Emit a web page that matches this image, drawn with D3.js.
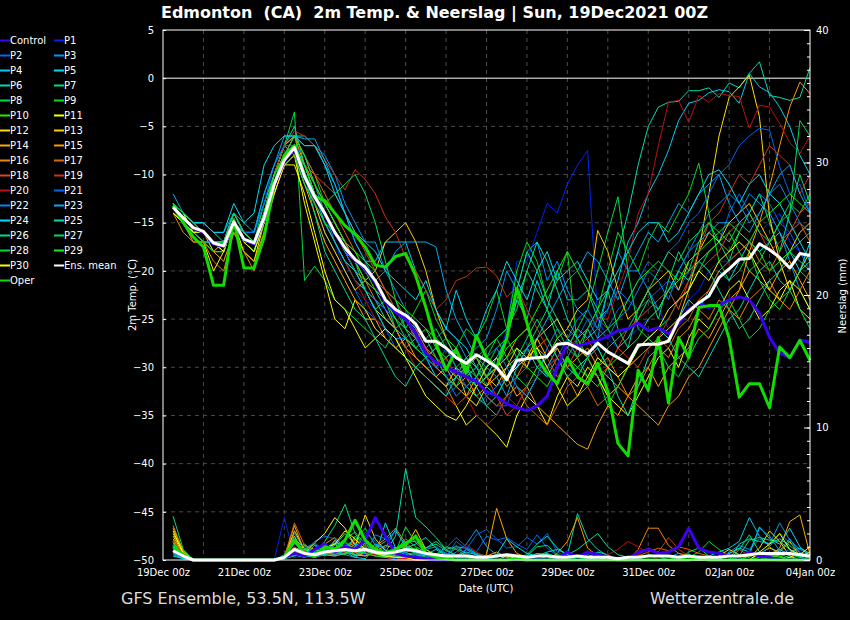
<!DOCTYPE html>
<html>
<head>
<meta charset="utf-8">
<script src="https://cdn.jsdelivr.net/npm/d3@7"></script>
<style>
  body { margin: 0; background: #000; }
</style>
</head>
<body>
<script>
const width = 850;
const height = 620;

// Zeitachse: 6-stündlich ab 19Dec 06z bis 04Jan 00z (Stunden seit 19Dec 00z)
const hours = d3.range(6, 390, 6);
const startTime = Date.UTC(2021, 11, 19);
const endHours = 384;
const labelHours = [0, 48, 96, 144, 192, 240, 288, 336, 384];

const tempTicks = [5, 0, -5, -10, -15, -20, -25, -30, -35, -40, -45, -50];
const precipTicks = [0, 10, 20, 30, 40];

// Farben der Mitglieder P1..P30
const memberNames = ["P1","P2","P3","P4","P5","P6","P7","P8","P9","P10",
  "P11","P12","P13","P14","P15","P16","P17","P18","P19","P20",
  "P21","P22","P23","P24","P25","P26","P27","P28","P29","P30"];
const memberColors = ["#0022ee","#0066ee","#0099ee","#00ccee","#00ddee","#00ddaa","#00dd77","#00dd44","#00dd22","#22ee00",
  "#ffff00","#ffdd00","#ffcc00","#ffaa00","#ff9900","#ee8800","#dd6600","#dd4422","#cc3311","#bb1111",
  "#0066ee","#0088ee","#00aaee","#00ddee","#00ddaa","#00dd88","#00dd55","#00dd33","#11ee11","#ffff00"];

const controlColor = "#3d00f0";
const operColor = "#11dd00";
const meanColor = "#ffffff";

// 2m Temperatur (°C)
const controlTemp = [
  -13.5,-14.6,-15.6,-16.0,-17.2,-17.5,-15.0,-16.8,
  -17.2,-14.6,-11.1,-8.6,-7.3,-10.3,-12.4,-14.1,
  -16.1,-17.7,-18.9,-19.8,-21.2,-23.2,-24.3,-25.0,
  -26.5,-28.5,-29.5,-30.0,-30.5,-31.0,-31.5,-32.5,
  -33.0,-33.8,-34.2,-34.5,-34.0,-33.0,-30.0,-27.5,
  -27.8,-27.5,-27.2,-26.8,-26.2,-26.0,-25.4,-26.2,
  -25.9,-26.5,-25.5,-24.0,-23.4,-23.8,-23.6,-23.0,
  -22.7,-23.0,-24.4,-26.9,-28.5,-29.0,-27.2,-27.4];

const operTemp = [
  -13.2,-15.0,-16.5,-17.5,-21.5,-21.5,-14.7,-19.7,
  -19.7,-16.5,-11.0,-8.0,-7.0,-10.0,-12.3,-12.7,
  -14.0,-15.3,-16.2,-17.5,-19.4,-19.6,-18.5,-18.2,
  -20.5,-23.8,-27.5,-30.3,-28.2,-30.6,-26.7,-29.0,
  -30.0,-27.0,-21.8,-25.4,-29.0,-30.6,-31.7,-29.0,
  -31.0,-31.7,-29.6,-32.5,-37.9,-39.2,-30.3,-32.4,
  -26.9,-33.7,-26.9,-29.0,-23.8,-23.6,-23.6,-27.0,
  -33.1,-31.7,-31.7,-34.2,-27.9,-29.0,-27.2,-29.3];

const meanTemp = [
  -13.4,-14.5,-15.5,-15.9,-17.1,-17.4,-14.9,-16.7,
  -17.1,-14.5,-11.0,-8.5,-7.2,-10.2,-12.3,-14.0,
  -16.0,-17.6,-18.8,-19.6,-21.0,-23.0,-24.0,-24.6,
  -25.5,-27.3,-27.3,-28.0,-29.0,-29.6,-28.7,-29.3,
  -30.0,-31.3,-29.3,-29.1,-29.0,-28.9,-27.6,-27.5,
  -28.0,-28.6,-27.5,-28.4,-29.0,-29.6,-27.7,-27.6,
  -27.6,-27.3,-25.1,-24.2,-23.3,-22.6,-20.7,-19.8,
  -18.8,-18.7,-17.2,-17.8,-18.6,-19.7,-18.2,-18.4];

const memberTemp = [
  // P1
  [-13,-15,-16,-16,-17,-18,-15,-17, -17,-14,-10,-8,-7,-9,-12,-15, -17,-20,-22,-23,-24,-25,-26,-27, -28,-29,-30,-31,-30,-31,-30,-29,
   -30,-26,-19,-19,-16,-13,-14,-11, -9,-7.5,-25,-27,-28,-27,-26,-25, -24,-26,-25,-23,-22,-20,-19,-19, -18,-17,-16,-15,-14,-17,-18,-19],
  // P2
  [-14,-15,-16,-16,-18,-18,-15,-17, -18,-15,-11,-8,-6,-10,-13,-16, -18,-20,-22,-24,-25,-26,-28,-29, -30,-31,-32,-33,-32,-33,-34,-33,
   -34,-34,-31,-30,-28,-30,-29,-27, -26,-27,-25,-26,-24,-23,-24,-23, -22,-21,-22,-20,-19,-18,-17,-14, -12,-14,-12,-13,-15,-16,-18,-20],
  // P3
  [-13,-14,-15,-16,-17,-17,-14,-16, -17,-14,-11,-8,-6,-7,-7,-8, -10,-13,-15,-17,-17,-20,-22,-24, -26,-28,-27,-26,-27,-29,-28,-27,
   -24,-20,-22,-18,-17,-21,-19,-22, -24,-25,-27,-22,-18,-20,-20,-22, -24,-22,-20,-18,-17,-16,-15,-15, -14,-12,-13,-14,-16,-19,-22,-24],
  // P4
  [-14,-15,-16,-16,-17,-17,-15,-16, -16,-12,-9,-7,-6,-6,-7,-9, -11,-14,-17,-19,-19,-17,-17,-17, -20,-22,-24,-26,-27,-28,-30,-31,
   -30,-27,-23,-25,-21,-24,-20,-23, -23,-22,-25,-24,-21,-17,-15,-12, -10,-7.5,-4.4,-2.6,-2.3,-1.5,-1.2,-1.4, -2.6,0.5,-0.9,-1.5,-3,-5,-8,-10],
  // P5
  [-13,-14,-15,-15,-16,-17,-14,-16, -16,-13,-10,-7,-8,-11,-13,-15, -17,-19,-21,-22,-23,-25,-26,-27, -28,-29,-31,-32,-31,-30,-32,-34,
   -35,-33,-32,-33,-31,-30,-28,-30, -31,-29,-28,-30,-31,-30,-28,-27, -26,-27,-25,-23,-24,-22,-20,-21, -19,-17,-18,-17,-16,-18,-20,-17],
  // P6
  [-14,-15,-16,-16,-17,-18,-15,-17, -17,-14,-10,-7,-5,-9,-12,-14, -16,-18,-19,-21,-22,-24,-26,-25, -27,-29,-28,-30,-31,-32,-33,-34,
   -33,-31,-30,-28,-30,-31,-29,-28, -26,-27,-26,-22,-18,-14,-9,-5, -3,-2.5,-2.4,-1.3,-1.3,-1,-2,-0.5, -1,0.5,1.7,-1.8,-2,-2.3,-2,1.1],
  // P7
  [-13,-14,-16,-17,-18,-18,-15,-17, -18,-15,-11,-9,-8,-10,-12,-13, -15,-17,-19,-22,-24,-23,-26,-28, -27,-29,-30,-29,-28,-31,-30,-28,
   -27,-26,-22,-18,-20,-23,-25,-27, -29,-26,-24,-22,-26,-28,-24,-22, -25,-21,-18,-20,-17,-15,-17,-19, -16,-14,-12,-15,-18,-14,-10,-13],
  // P8
  [-14,-15,-16,-16,-17,-17,-14,-16, -17,-13,-10,-7,-3.5,-21,-19.5,-21, -23,-24,-25,-26,-27,-28,-26,-27, -28,-27,-26,-28,-30,-29,-31,-30,
   -28,-27,-29,-28,-26,-24,-27,-28, -26,-24,-20,-16,-12.3,-20,-26,-27, -26,-25,-23,-22,-20,-18,-17,-16, -18,-20,-19,-17,-15,-13,-14,-12],
  // P9
  [-13,-15,-16,-16,-17,-17,-15,-17, -17,-14,-10,-7,-6,-8,-10,-13, -15,-17,-19,-20,-21,-23,-24,-26, -24,-22,-25,-27,-28,-26,-27,-25,
   -22,-26,-20,-17,-19,-23,-21,-18, -28,-26,-24,-20,-16,-18,-20,-17, -15,-16,-14,-12,-8.8,-14,-19,-21, -20,-18,-21,-23,-24,-22,-20,-21],
  // P10
  [-14,-15,-16,-17,-17,-18,-15,-17, -18,-15,-11,-8,-7,-9,-11,-14, -16,-17,-18,-19,-20,-22,-23,-24, -25,-26,-27,-28,-30,-31,-32,-31,
   -30,-29,-28,-30,-31,-32,-30,-29, -30,-31,-32,-30,-29,-28,-27,-25, -24,-22,-21,-20,-19,-18,-17,-18, -16,-17,-15,-14,-13,-12,-13,-14],
  // P11
  [-13,-14,-16,-17,-20,-18,-15,-18, -19,-15,-11,-9,-8,-13,-17,-21, -25,-26,-23,-24,-26,-27,-28,-29, -30,-31,-32,-33,-34,-36,-35,-36,
   -37,-38.3,-35,-33,-34,-36,-33,-31, -32,-30,-31,-33,-34,-35,-33,-31, -29,-28,-30,-27,-25,-26,-24,-22, -21,-23,-25,-24,-22,-21,-24,-25],
  // P12
  [-14,-15,-16,-16,-17,-17,-14,-16, -17,-14,-10,-8,-7,-9,-12,-14, -16,-18,-20,-22,-24,-25,-26,-28, -29,-30,-31,-32,-30,-33,-34,-32,
   -31,-30,-28,-29,-27,-26,-25,-27, -28,-29,-31,-33,-32,-30,-29,-28, -27,-26,-25,-22,-18,-12,-6,-2, -0.9,0.3,-4,-14.4,-19,-22,-20,-18],
  // P13
  [-13,-15,-16,-16,-18,-17,-15,-17, -17,-14,-10,-8,-7,-10,-13,-16, -18,-20,-22,-21,-20,-17,-16,-15, -17,-20,-24,-27,-29,-30,-29,-31,
   -32,-30,-29,-30,-27,-29,-27,-26, -24,-23,-15.8,-18,-22,-25,-24,-22, -21,-20,-22,-19,-18,-16,-17,-15, -14,-13,-15,-17,-19,-18,-16,-15],
  // P14
  [-14,-15,-17,-17,-18,-19,-16,-18, -19,-16,-12,-9,-8,-11,-14,-17, -19,-21,-23,-25,-25,-27,-28,-27, -29,-30,-31,-30,-32,-33,-31,-32,
   -30,-31,-33,-32,-34,-35,-36,-37, -38,-38.5,-36,-34,-35,-33,-31,-30, -32,-30,-29,-28,-26,-27,-25,-23, -22,-20,-21,-22,-20,-19,-21,-23],
  // P15
  [-13,-14,-15,-16,-17,-17,-14,-16, -17,-14,-10,-7,-6,-9,-12,-14, -16,-18,-20,-21,-22,-23,-24,-25, -27,-28,-30,-31,-32,-31,-33,-32,
   -30,-29,-27,-26,-28,-29,-28,-30, -29,-28,-30,-31,-32,-33,-34,-35, -36,-34,-33,-31,-30,-28,-26,-24, -22,-18,-15,-11.3,-7,-3,-0.4,-1.6],
  // P16
  [-14,-16,-17,-17,-19,-20,-16,-18, -20,-16,-12,-9,-8,-9,-11,-13, -15,-17,-19,-21,-23,-24,-26,-28, -29,-30,-31,-32,-34,-33,-32,-31,
   -30,-32,-31,-29,-28,-27,-29,-31, -33,-32,-30,-29,-31,-33,-32,-30, -28,-29,-27,-26,-24,-25,-23,-24, -25,-23,-22,-21,-23,-24,-22,-20],
  // P17
  [-13,-14,-15,-16,-17,-17,-15,-17, -18,-15,-11,-9,-8,-9,-10,-12, -14,-16,-18,-20,-21,-22,-24,-25, -26,-28,-29,-30,-31,-32,-31,-33,
   -34,-33,-32,-34,-35,-36,-34,-32, -31,-32,-34,-33,-32,-30,-29,-28, -27,-28,-26,-25,-23,-22,-20,-19, -18,-17,-19,-20,-18,-16,-15,-17],
  // P18
  [-14,-15,-16,-16,-17,-18,-15,-17, -17,-14,-11,-8,-6,-8,-10,-11, -12,-14,-16,-18,-20,-22,-23,-25, -27,-28,-30,-29,-31,-30,-29,-31,
   -33,-35,-34,-32,-30,-29,-31,-30, -28,-27,-29,-30,-28,-26,-25,-24, -23,-22,-24,-21,-20,-19,-18,-16, -15,-14,-16,-18,-17,-16,-14,-13],
  // P19
  [-13,-15,-16,-16,-17,-18,-15,-17, -17,-14,-10,-7,-5.5,-6,-7,-8.5, -10,-11.6,-9.5,-10.5,-12,-14.4,-16,-18.6, -20,-22,-24,-23,-21,-20.6,-19.7,-19.6,
   -20.5,-22.7,-21.7,-24,-26,-28,-30,-29, -27,-29,-31,-30,-28,-29,-30,-28, -27,-25,-23,-21,-18,-15,-14,-12, -10,-11,-9,-7,-8,-9,-12,-10],
  // P20
  [-14,-15,-16,-17,-18,-18,-15,-17, -18,-15,-11,-8,-7,-10,-13,-15, -17,-19,-21,-23,-25,-26,-27,-28, -30,-31,-32,-33,-34,-33,-35,-36,
   -35,-33,-34,-32,-31,-30,-29,-28, -27,-26,-25,-25,-22,-19,-14,-12, -7,-2.5,-2.3,-4.6,-1.8,-2.5,-1.6,-1.8, -1.9,-5.2,-2.8,-3,-4.7,-6.7,-7.8,-6],
  // P21
  [-13,-14,-15,-16,-17,-17,-14,-16, -16,-13,-9,-7,-7,-9,-12,-14, -16,-18,-20,-22,-23,-24,-25,-26, -27,-29,-30,-28,-30,-32,-31,-33,
   -32,-31,-30,-28,-29,-31,-30,-29, -27,-25,-26,-24,-22,-23,-21,-19, -20,-18,-17,-15,-14,-12,-10,-9, -7,-6,-5.2,-5.4,-9.2,-12,-11,-14],
  // P22
  [-14,-15,-16,-17,-17,-18,-15,-17, -17,-14,-10,-8,-7,-8,-11,-14, -17,-19,-20,-22,-24,-26,-27,-27, -26,-27,-29,-31,-33,-32,-31,-29,
   -28,-30,-32,-33,-31,-28,-26,-27, -25,-24,-26,-27,-25,-24,-22,-20, -21,-23,-20,-18,-16,-14,-13,-12, -13,-15,-14,-12,-11,-13,-15,-16],
  // P23
  [-12,-14,-15,-15,-16,-16,-14,-15, -16,-12,-9,-6,-6,-6.3,-6.3,-8.5, -11,-14,-17,-19,-21,-20,-18,-17, -17,-17,-17.5,-22,-25,-27,-29,-30,
   -31,-33,-30,-28,-27,-25,-23,-21, -20,-18,-19,-21,-23,-20,-18,-16, -17,-15,-13,-14,-12,-11,-10,-13, -15,-16,-14,-12,-10,-9,-12,-14],
  // P24
  [-13,-14,-15,-15,-16,-16,-13,-15, -14,-9,-7,-6,-6,-7,-7,-9, -12,-14,-16,-17,-18,-20,-21,-22, -23,-21,-24,-26,-22,-25,-27,-24,
   -22,-19,-21,-23,-20,-18,-21,-20, -19,-21,-23,-22,-20,-18,-16,-15, -15,-17,-16,-14,-12,-10,-9.5,-11, -13,-11,-10,-12,-13,-15,-17,-19],
  // P25
  [-14,-15,-16,-16,-17,-18,-15,-17, -18,-15,-11,-8,-7,-9,-12,-15, -17,-19,-20,-22,-24,-26,-27,-29, -30,-31,-32,-33,-31,-30,-32,-31,
   -29,-27,-23,-20,-17,-19,-22,-25, -27,-26,-28,-30,-33,-35,-32,-29, -28,-27,-29,-30,-31,-29,-27,-25, -24,-22,-20,-19,-21,-22,-20,-19],
  // P26
  [-13,-15,-16,-17,-17,-18,-15,-16, -17,-14,-11,-8,-7,-10,-14,-18, -20,-22,-24,-25,-27,-29,-31,-32, -30,-29,-28,-30,-31,-29,-30,-32,
   -33,-31,-29,-27,-25,-27,-29,-31, -30,-29,-27,-26,-28,-27,-25,-23, -24,-22,-20,-21,-19,-20,-22,-24, -26,-25,-23,-21,-20,-18,-19,-20],
  // P27
  [-14,-15,-16,-16,-17,-17,-14,-16, -17,-14,-10,-8,-7,-9,-12,-13, -12,-11,-10,-12,-15,-19,-23,-26, -28,-29,-28,-27,-29,-30,-31,-29,
   -27,-26,-24,-20,-22,-24,-26,-28, -29,-31,-30,-28,-27,-26,-24,-22, -20,-18,-19,-17,-16,-15,-16,-17, -15,-14,-16,-17,-15,-14,-4.4,-6],
  // P28
  [-13,-14,-15,-16,-17,-17,-15,-17, -18,-15,-11,-9,-8,-11,-13,-15, -16,-18,-19,-21,-22,-23,-25,-27, -28,-27,-29,-31,-32,-30,-29,-28,
   -27,-29,-31,-32,-30,-29,-27,-26, -27,-29,-31,-34,-32,-30,-28,-27, -28,-30,-31,-29,-27,-26,-24,-23, -25,-27,-26,-24,-23,-22,-24,-26],
  // P29
  [-14,-15,-16,-17,-18,-18,-15,-17, -18,-14,-10,-8,-6,-8,-11,-13, -15,-17,-18,-20,-22,-23,-25,-26, -27,-26,-28,-29,-28,-30,-29,-31,
   -30,-28,-27,-26,-24,-22,-20,-18, -20,-22,-24,-26,-25,-23,-21,-20, -19,-20,-21,-19,-18,-17,-16,-15, -16,-17,-18,-20,-19,-18,-17,-16],
  // P30
  [-14,-15,-16,-16,-17,-18,-15,-17, -18,-15,-12,-9,-9,-12,-16,-20, -23,-24,-26,-28,-27,-26,-27,-29, -31,-33,-34,-35,-35.5,-34,-32,-30,
   -29,-31,-30,-29,-28,-30,-32,-34, -33,-31,-29,-30,-31,-30,-28,-27, -26,-24,-23,-22,-20,-21,-19,-18, -17,-18,-20,-22,-23,-21,-22,-24]
];

// Neerslag (mm)
const controlPrecip = [
  0.8,0.3,0,0,0,0,0,0, 0,0,0,0.2,0.5,0.3,0.8,1.2, 0.6,1.0,0.8,1.5,3.2,1.8,0.5,0.3, 0.2,0.1,0,0,0,0,0,0,
  0,0,0,0,0.1,0,0,0.6, 0.2,0.6,0.4,0.2,0,0,0.6,0.8, 0.5,0.6,1.0,2.4,0.9,0.6,0.5,0.3, 0.2,0.6,0.3,0.2,0,0,0,0];
const operPrecip = [
  1.0,0.4,0,0,0,0,0,0, 0,0,0,0.2,1.5,0.5,0.3,1.0, 0.8,1.5,3.0,1.5,0.8,0.5,0.8,1.2, 1.8,0.5,0.2,0.1,0,0,0,0,
  0,0,0.1,0,0,0,0,0, 0,0,0,0,0,0,0,0, 0,0,0,0,0.1,0,0,0, 0,0,0,0,0,0,0,0];
const meanPrecip = [
  0.7,0.3,0,0,0,0,0,0, 0,0,0,0.2,0.8,0.5,0.4,0.6, 0.7,0.8,0.7,0.8,0.6,0.5,0.6,0.8, 0.7,0.5,0.4,0.3,0.3,0.3,0.2,0.2,
  0.3,0.4,0.3,0.2,0.3,0.3,0.2,0.2, 0.3,0.2,0.2,0.2,0.1,0.2,0.2,0.3, 0.3,0.3,0.2,0.3,0.2,0.2,0.2,0.3, 0.3,0.4,0.5,0.5,0.5,0.5,0.4,0.3];

const memberPrecip = [
  // P1
  [0.6,0.2,0,0,0,0,0,0, 0,0,0,3.2,0.2,0.3,0.5,1.0, 0.8,1.2,0.6,0.4,0.3,0.2,0,0, 0,0,0,0,0,0,0,0,
   0,0,0,0,0.2,0,0,0, 0,0,0,0,0,0,0,0, 0,0,0,0.3,0,0,0,0, 0,0,0,0,0,0,0,0],
  // P2
  [1.0,0.3,0,0,0,0,0,0, 0,0,0,0.3,1.2,0.6,1.4,1.8, 1.6,0.9,0.5,0.7,0.4,0.2,0.1,0, 0,0,0.3,0.9,1.7,1.0,0.6,1.8,
   1.5,1.7,1.2,0.8,1.9,0.9,0.3,0, 0,0,0,0,0,0,0,0, 0,0,0,0,0,0,0,0, 0,0,0,0.5,0.8,0.3,0,0],
  // P3
  [0.8,0.2,0,0,0,0,0,0, 0,0,0,0.4,2.0,0.8,0.3,1.1, 0.9,0.4,0.2,0.6,1.2,0.8,0.4,0.6, 0.8,0.5,0.3,0.2,0.6,1.2,2.3,1.0,
   0.4,0.2,0,0,0,0.3,0,0, 0,0.4,0.2,0,0,0,0,0, 0,0.2,0.5,0.3,0,0,0,0.6, 1.1,0.8,1.6,1.2,2.8,1.5,0.8,0.4],
  // P4
  [0.5,0.1,0,0,0,0,0,0, 0,0,0,0.2,1.6,0.9,0.4,0.8, 1.3,0.6,0.2,0.1,0.9,1.4,2.2,1.1, 0.6,0.3,0.2,0,0,0.8,0.4,0,
   0,0,0,0,0,0,0,0, 0,0,0,0,0,0,0,0, 0,0,0,0,0,0.3,0.6,0.9, 1.4,3.2,1.8,1.0,0.4,0.6,0.9,0.5],
  // P5
  [1.2,0.4,0,0,0,0,0,0, 0,0,0,0.3,0.8,0.4,1.1,0.6, 0.4,1.0,1.6,0.7,0.3,2.8,0.9,0.6, 0.2,0.4,0.8,0.3,0,0,0,0,
   0,0,0,0.2,0.5,0.4,0.3,0.2, 0,0.2,0.6,0.4,0,0,0,0, 0,0,0,0,0,0,0,0, 0,0.4,2.5,1.6,1.2,2.4,1.0,0.3],
  // P6
  [0.9,0.2,0,0,0,0,0,0, 0,0,0,0.2,0.9,0.5,0.3,0.7, 1.1,2.0,1.2,0.8,0.4,0.6,1.8,6.9, 3.2,2.5,1.7,0.8,1.0,0.9,0.5,0.3,
   0.2,0.4,0.2,0,0,0,0.3,0.4, 3.5,1.6,0.8,0.3,0,0,0,0, 0,0,0,0,0,0,0,0, 0,0,0,0.2,0.4,0.2,0,0],
  // P7
  [3.3,0.8,0,0,0,0,0,0, 0,0,0,0.2,0.6,1.0,0.5,1.4, 2.6,4.2,2.0,0.9,0.6,0.4,0.8,1.4, 1.4,0.9,1.2,0.7,0.4,0.2,0,0,
   0,0,0,0.3,1.0,1.1,0.4,0, 0,0,0,0,0,0,0,0, 0,0,0,0,0,0,0,0, 0.8,1.9,0.6,0.4,0.2,0,0,0],
  // P8
  [1.4,0.3,0,0,0,0,0,0, 0,0,0,0.3,0.9,0.4,0.2,0.8, 1.2,0.6,1.8,1.0,0.5,0.3,0.7,1.6, 1.0,0.6,0.4,1.0,0.8,0.3,0,0,
   0,0,0.2,0,0,0,0.4,0.2, 0,0,0,0,0,0,0,0, 0,0,0.3,0.2,0,0,0,0, 0,0,0,0,0,0,0,0],
  // P9
  [0.7,0.2,0,0,0,0,0,0, 0,0,0,0.2,0.4,0.8,1.2,0.6, 0.5,0.9,1.5,2.4,1.1,0.6,0.9,1.3, 1.9,0.8,0.4,0.2,0,0,0,0,
   0,0,0,0,0,0,0,0, 0,0,0.3,0.2,0,0,0,0, 0,0,0,0.2,0.6,1.4,0.8,0.3, 0.2,0,0,0,0,0.4,0.2,0],
  // P10
  [1.1,0.3,0,0,0,0,0,0, 0,0,0,0.1,0.5,0.3,0.8,0.4, 0.6,0.4,1.0,0.7,0.5,0.4,0.6,0.8, 0.9,0.4,0.2,0,0,0,0,0,
   0,0,0,0,0,0,0,0, 0,0,0,0,0,0,0,0, 0,0,0,0,0,0,0,0, 0,0,0,0.2,0.3,0,0,0],
  // P11
  [2.0,0.6,0,0,0,0,0,0, 0,0,0,0.2,0.8,0.5,1.3,2.0, 3.2,2.4,1.1,0.6,0.8,0.3,0.2,0.1, 0,0,0,0,0,0,0,0,
   0,0.3,0.1,0,0,0,0,0, 0,0,0,0,0,0,0,0, 0,0,0,0,0,0,0,0, 0,0,0,0,0,0.2,0.5,0],
  // P12
  [1.8,0.5,0,0,0,0,0,0, 0,0,0,0.2,2.2,0.8,0.4,0.6, 0.8,0.6,1.0,3.4,1.6,0.7,0.4,0.3, 0.5,0.2,0,0,0,0,0,0,
   0,0,0,0,0,0,0,0, 0,0,0,0,0,0,0,0, 0,0,0,0,0,0,0.3,0.8, 0.4,0.2,0.9,2.2,1.4,0.3,0,0],
  // P13
  [2.4,0.7,0,0,0,0,0,0, 0,0,0,0.3,1.8,0.4,0.2,0.5, 0.7,1.0,0.4,0.3,0.6,1.1,0.9,1.0, 2.3,0.8,0.3,0,0,0,0,0,
   0,0,0,0,0,0,0,0, 0,0,0,0,0.2,0,0,0, 0,0,0,0,0,0,0,0, 0,0,0.5,0.9,0.6,1.4,0.3,0.6],
  // P14
  [1.6,0.4,0,0,0,0,0,0, 0,0,0,0.2,2.6,0.6,0.3,0.4, 1.5,0.8,0.3,0.6,0.9,0.4,0.3,0.2, 0,0,0,0,0,0,0,0.4,
   3.9,1.6,0.5,0.2,0,0,0,0, 0,0,0,0,0,0,0,0, 0,0,0,0,0,0,0,0, 0,0,0,0.3,0.9,2.9,3.4,0.4],
  // P15
  [1.3,0.3,0,0,0,0,0,0, 0,0,0,0.1,0.6,1.1,0.8,0.5, 0.4,0.9,1.3,0.8,0.5,0.3,0.2,0.1, 0,0,0,0,0,0,0,0.3,
   0.6,0.2,0,0,0,0,0.5,1.4, 3.2,0.9,0.3,0,0,0,0,0, 0,0,0,0,0,0,0,0, 0,0,0,0,0,0,0,0],
  // P16
  [2.6,0.6,0,0,0,0,0,0, 0,0,0,0.2,0.9,0.4,0.8,1.2, 1.7,0.9,0.6,0.3,1.0,1.6,2.4,1.3, 0.7,0.4,0.2,0,0,0,0,0,
   0,0,0,0,0,0,0,0, 0,0,0,0,0,0,0.8,2.4, 2.4,1.1,0.5,0.3,0.2,0,0,0, 0,0,0,0,0,0,0,0],
  // P17
  [1.5,0.4,0,0,0,0,0,0, 0,0,0,0.2,2.8,1.1,0.6,0.4, 0.3,0.5,1.2,0.9,0.6,0.4,0.2,0.1, 0,0,0,0,0,0,0,0,
   0,0,0,0,0,0,0,0, 0,0,0,0,0,0,0.3,0.6, 0.9,0.7,1.0,0.8,0.5,0.3,0,0, 0,0,0,0,0,0,0,0],
  // P18
  [1.0,0.3,0,0,0,0,0,0, 0,0,0,0.2,1.4,0.7,0.4,0.9, 0.6,0.8,1.5,1.1,0.7,0.3,0.2,0, 0,0,0,0.2,1.1,0.4,0,0,
   0,0,0,0,0,0,0,0, 0,0,0,0,0,0,0,0, 0,0,0,0,0,0,0.2,0.5, 0.8,0.3,0,0,0,0,0,0],
  // P19
  [0.8,0.2,0,0,0,0,0,0, 0,0,0,0.3,1.0,0.5,0.2,0.4, 0.7,1.1,0.9,0.5,0.3,0.2,0,0, 0,0,0,0,0,0,0,0,
   0,0,0,0,0,0,0,0, 0,0,0,0,0,0,0.4,0.9, 0.6,1.7,0.8,0.3,0,0,0,0, 0,0,0,0,0,0,0,0],
  // P20
  [0.9,0.2,0,0,0,0,0,0, 0,0,0,0.2,0.7,0.4,0.3,0.6, 0.4,0.6,0.8,0.5,0.4,0.3,0.2,0.1, 0,0,0,0,0.4,1.2,0.6,0.2,
   0,0,0,0,0,0,0,0, 0,0,0.2,0.4,0.8,1.4,1.0,0.5, 0,0,0,0,0,0,0,0, 0,0,0,0,0,0,0,0],
  // P21
  [1.2,0.3,0,0,0,0,0,0, 0,0,0,0.2,0.6,0.9,1.3,0.7, 0.5,0.8,1.0,2.1,1.4,0.6,0.3,0.2, 0.5,0.2,0.4,0.3,1.4,0.8,1.9,2.3,
   1.6,0.9,1.0,1.7,1.2,2.0,0.6,0.2, 0,0,0,0,0,0,0,0, 0,0,0,0,0,0,0,0, 0,0,0,0.3,0.5,0.8,0.3,0],
  // P22
  [0.7,0.2,0,0,0,0,0,0, 0,0,0,0.2,0.5,0.3,0.2,0.4, 0.9,1.3,0.7,0.5,1.9,1.6,0.8,0.4, 0.3,0.8,1.0,0.5,0.3,0.8,0.4,0.2,
   0,0,0,0,0,0,0,0, 0,0,0,0,0,0,0,0, 0,0,0,0,0,0,0,0, 0,0,0.4,1.0,2.0,1.3,0.6,0.2],
  // P23
  [0.4,0.1,0,0,0,0,0,0, 0,0,0,0.1,0.4,0.3,0.5,0.8, 1.4,0.8,0.4,0.6,1.2,0.9,2.3,1.0, 0.5,0.4,0.2,0.3,0.9,0.5,0.2,0.1,
   0,0,0,0,0,0,0,0, 0,0,0.3,0.2,0,0,0,0, 0,0,0,0,0,0,0,0, 0.2,0.6,2.4,1.8,0.7,1.6,0.5,0.3],
  // P24
  [0.3,0.1,0,0,0,0,0,0, 0,0,0,0.2,0.4,0.2,0.6,0.4, 0.3,0.5,0.9,0.7,0.5,0.3,0.2,0.4, 0.2,0,0,0,0.3,0.6,0.4,0.2,
   0.4,1.6,1.0,0.5,0.3,0.6,0.8,0.4, 0,0,0,0,0,0,0,0, 0,0,0,0,0,0,0,0.5, 0.9,0.6,0.4,0.3,0.8,0.4,0.3,0.2],
  // P25
  [0.6,0.2,0,0,0,0,0,0, 0,0,0,0.2,0.5,0.3,0.8,0.6, 0.4,0.7,1.2,0.8,0.5,0.2,0.6,0.9, 1.2,1.7,0.9,0.4,0.2,0,0,0,
   0,0,0.2,0.4,1.2,1.8,0.9,0.4, 0.8,1.4,2.0,1.0,0.4,0.2,0,0, 0,0,0,0,0,0,0,0, 1.2,1.6,1.4,1.2,1.6,1.1,0.4,0.2],
  // P26
  [1.0,0.2,0,0,0,0,0,0, 0,0,0,0.1,0.3,0.6,0.4,0.9, 1.2,0.6,0.4,0.8,0.5,0.3,0.7,0.4, 0.6,0.9,1.4,0.8,0.3,0.1,0,0,
   0,0,0,0,0,0,0,0, 0,0,0,0,0,0,0,0, 0,0,0.2,0.4,0.2,0,0,0, 0.3,1.5,1.7,1.5,1.4,0.8,0.2,0],
  // P27
  [1.3,0.3,0,0,0,0,0,0, 0,0,0,0.2,0.7,1.2,0.6,0.3, 0.8,1.6,2.1,1.2,0.7,0.4,0.6,2.5, 1.3,0.6,0.3,0.1,0,0,0,0,
   0,0,0,0,0,0,0,0, 0,0,0.2,0,0,0,0,0.4, 0.3,0,0,0.6,0.9,0.3,0,0, 0,0,0,0,0,0,0,0],
  // P28
  [0.8,0.2,0,0,0,0,0,0, 0,0,0,0.1,0.4,0.2,0.7,1.0, 0.6,0.4,0.8,1.3,0.9,0.5,0.3,0.2, 0.4,0.2,0,0,0,0,0,0,
   0,0,0,0,0,0,0,0, 0,0,0,0,0,0,0,0, 0,0,0,0,0.3,0.2,0,0, 0,0.3,0.4,0.2,0,0,0,0],
  // P29
  [1.1,0.3,0,0,0,0,0,0, 0,0,0,0.2,0.5,0.8,0.4,1.0, 0.6,1.4,0.7,0.5,0.3,0.2,0.4,1.0, 0.8,0.5,0.2,0,0,0,0,0,
   0,0,0,0,0.3,0.5,0.2,0, 0,0,0,0,0,0,0,0, 0,0,0,0,0,0,0,0, 0,0,0.2,0.4,0.3,0,0,0],
  // P30
  [2.2,0.5,0,0,0,0,0,0, 0,0,0,0.2,1.3,0.6,0.3,0.9, 1.2,2.2,1.6,0.8,0.5,0.3,0.2,0.2, 0,0,0,0,0,0,0.3,0,
   0,0,0,0,0,0,0,0, 0,0,0,0,0,0,0,0, 0,0,0,0,0,0,0,0, 0,0,0.6,1.2,2.0,0.8,0.4,1.0]
];

// Skalen
const x = d3.scaleUtc()
  .domain([new Date(startTime), new Date(startTime + endHours * 3600e3)])
  .range([163, 810]);
const yT = d3.scaleLinear().domain([-50, 5]).range([560, 30]);
const yP = d3.scaleLinear().domain([0, 40]).range([560, 30]);
const timeOf = h => new Date(startTime + h * 3600e3);

const svg = d3.select("body").append("svg")
  .attr("width", width)
  .attr("height", height)
  .attr("viewBox", [0, 0, width, height])
  .style("background", "#000")
  .attr("font-family", "'DejaVu Sans', sans-serif");

// Gitter
const grid = svg.append("g")
  .attr("stroke", "#4a4a4a")
  .attr("stroke-dasharray", "4,4");
grid.selectAll("line.h")
  .data(tempTicks.filter(v => v > -50 && v < 5 && v !== 0))
  .join("line")
  .attr("x1", 163).attr("x2", 810)
  .attr("y1", d => yT(d)).attr("y2", d => yT(d));
grid.selectAll("line.v")
  .data(d3.utcDay.range(new Date(startTime + 864e5), timeOf(endHours)))
  .join("line")
  .attr("x1", d => x(d)).attr("x2", d => x(d))
  .attr("y1", 30).attr("y2", 560);

// Nulllinie
svg.append("line")
  .attr("x1", 163).attr("x2", 810)
  .attr("y1", yT(0)).attr("y2", yT(0))
  .attr("stroke", "#fff");

const lineT = d3.line().x((d, i) => x(timeOf(hours[i]))).y(d => yT(d));
const lineP = d3.line().x((d, i) => x(timeOf(hours[i]))).y(d => yP(d));

// Mitglieder
const members = svg.append("g").attr("fill", "none").attr("stroke-width", 1);
members.selectAll("path.t")
  .data(memberTemp)
  .join("path")
  .attr("d", lineT)
  .attr("stroke", (d, i) => memberColors[i]);
members.selectAll("path.p")
  .data(memberPrecip)
  .join("path")
  .attr("d", lineP)
  .attr("stroke", (d, i) => memberColors[i]);

// Control, Oper, Mittel
const main = svg.append("g").attr("fill", "none").attr("stroke-width", 3).attr("stroke-linejoin", "round");
[[controlTemp, controlPrecip, controlColor], [operTemp, operPrecip, operColor], [meanTemp, meanPrecip, meanColor]]
  .forEach(([t, p, c]) => {
    main.append("path").attr("d", lineT(t)).attr("stroke", c);
    main.append("path").attr("d", lineP(p)).attr("stroke", c);
  });

// Rahmen
svg.append("rect")
  .attr("x", 163).attr("y", 30).attr("width", 647).attr("height", 530)
  .attr("fill", "none").attr("stroke", "#fff");

// Achsen
const styleAxis = g => {
  g.select(".domain").remove();
  g.selectAll("line").attr("stroke", "#fff");
  g.selectAll("text").attr("fill", "#fff");
  g.attr("font-family", "'DejaVu Sans', sans-serif").attr("font-size", 10);
};

svg.append("g")
  .attr("transform", "translate(163,0)")
  .call(d3.axisLeft(yT).tickValues(tempTicks).tickSize(-3).tickPadding(9))
  .call(styleAxis);

svg.append("g")
  .attr("transform", "translate(810,0)")
  .call(d3.axisRight(yP).tickValues(d3.range(0, 41)).tickSize(-3).tickFormat(""))
  .call(styleAxis);
svg.append("g")
  .attr("transform", "translate(810,0)")
  .call(d3.axisRight(yP).tickValues(precipTicks).tickSize(-6).tickPadding(6))
  .call(styleAxis);

svg.append("g")
  .attr("transform", "translate(0,560)")
  .call(d3.axisBottom(x).tickValues(labelHours.map(timeOf)).tickFormat(d3.utcFormat("%d%b %Hz")).tickSize(0).tickPadding(9))
  .call(styleAxis);

// Achsentitel
svg.append("text")
  .attr("x", 486).attr("y", 592)
  .attr("text-anchor", "middle").attr("fill", "#fff").attr("font-size", 10)
  .text("Date (UTC)");
svg.append("text")
  .attr("transform", "translate(136,295) rotate(-90)")
  .attr("text-anchor", "middle").attr("fill", "#fff").attr("font-size", 10)
  .text("2m Temp. (°C)");
svg.append("text")
  .attr("transform", "translate(846,296) rotate(-90)")
  .attr("text-anchor", "middle").attr("fill", "#fff").attr("font-size", 10)
  .text("Neerslag (mm)");

// Titel und Fußzeile
svg.append("text")
  .attr("x", 161).attr("y", 18)
  .attr("fill", "#fff").attr("font-size", 15).attr("font-weight", "bold")
  .attr("textLength", 547).attr("lengthAdjust", "spacingAndGlyphs")
  .style("white-space", "pre")
  .text("Edmonton  (CA)  2m Temp. & Neerslag | Sun, 19Dec2021 00Z");
svg.append("text")
  .attr("x", 121).attr("y", 604)
  .attr("fill", "#ddd").attr("font-size", 16)
  .text("GFS Ensemble, 53.5N, 113.5W");
svg.append("text")
  .attr("x", 650).attr("y", 604)
  .attr("fill", "#ddd").attr("font-size", 16)
  .text("Wetterzentrale.de");

// Legende
const legendItems = [{name: "Control", color: controlColor}]
  .concat(memberNames.map((n, i) => ({name: n, color: memberColors[i]})))
  .concat([{name: "Ens. mean", color: meanColor}, {name: "Oper", color: operColor}]);

const legend = svg.append("g").attr("font-size", 10).attr("fill", "#fff");
const item = legend.selectAll("g")
  .data(legendItems)
  .join("g")
  .attr("transform", (d, i) => `translate(${i % 2 ? 54 : 0},${40.5 + Math.floor(i / 2) * 15})`);
item.append("line")
  .attr("x1", 0).attr("x2", 10)
  .attr("stroke", d => d.color).attr("stroke-width", 2);
item.append("text")
  .attr("x", 10).attr("dy", "0.35em")
  .text(d => d.name);
</script>
</body>
</html>
